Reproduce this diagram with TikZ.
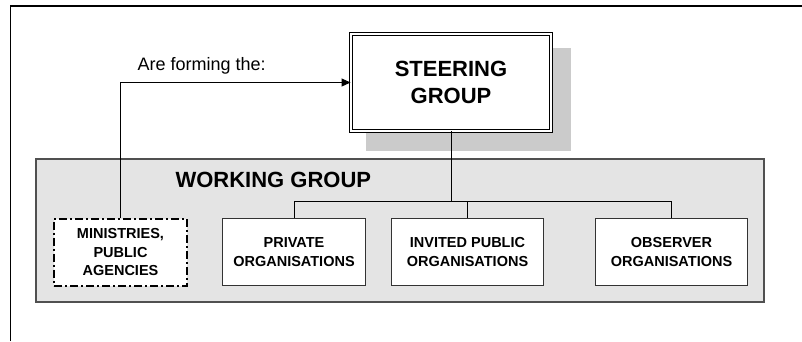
\documentclass[tikz,border=0pt]{standalone}
\usepackage{fontspec}
\setmainfont{Liberation Sans}
\usetikzlibrary{arrows.meta}
\definecolor{shadowgray}{HTML}{CBCBCB}
\definecolor{wgfill}{HTML}{E4E4E4}
\definecolor{wgline}{HTML}{505050}
\definecolor{boxline}{HTML}{333333}
\begin{document}
\begin{tikzpicture}[x=1pt,y=-1pt,
  wgpanel/.style={draw=wgline,fill=wgfill,line width=1.3pt,inner sep=0pt,outer sep=0pt},
  shadowbox/.style={fill=shadowgray,inner sep=0pt,outer sep=0pt},
  steerbox/.style={draw=black,fill=white,double=white,double distance=2pt,line width=0.9pt,
    inner sep=0pt,align=center,font=\fontsize{22}{27}\selectfont\bfseries},
  member/.style={draw=boxline,fill=white,line width=1.3pt,inner sep=0pt,align=center,
    minimum height=67pt,font=\fontsize{14.5}{18.5}\selectfont\bfseries},
  govbox/.style={member,draw=black,line width=2pt,dash pattern=on 8pt off 3pt on 2pt off 3pt},
  link/.style={draw=black,line width=0.9pt},
  arrowtip/.style={-{Triangle[length=9pt,width=8pt]}}
]
\useasboundingbox (0,0) rectangle (802,341);

% page frame
\coordinate (frameBL) at (10.5,341);
\coordinate (frameTL) at (10.5,6);
\coordinate (frameTR) at (802,6);
\draw[line width=1.2pt] (frameBL) -- (frameTL) -- (frameTR);

% working group panel
\node[wgpanel,minimum width=728pt,minimum height=143pt] (wg) at (400,230.5) {};
\node[anchor=base west,font=\fontsize{22}{26}\selectfont\bfseries] (wglabel) at (172,187) {WORKING GROUP};

% steering group with drop shadow
\node[shadowbox,minimum width=205pt,minimum height=103pt] (shadow) at (468.5,99.5) {};
\node[steerbox,minimum width=200pt,minimum height=97pt] (steer) at (451,82.5) {STEERING\\GROUP};

% member boxes
\node[govbox,minimum width=133pt] (mins) at (120.5,252) {MINISTRIES,\\PUBLIC\\AGENCIES};
\node[member,minimum width=143pt] (priv) at (294,252) {PRIVATE\\ORGANISATIONS};
\node[member,minimum width=152pt] (inv) at (467.5,252) {INVITED PUBLIC\\ORGANISATIONS};
\node[member,minimum width=152pt] (obs) at (671.5,252) {OBSERVER\\ORGANISATIONS};

% tree from the steering group down to the organisations
\coordinate (bus) at (451,201);
\draw[link] (steer.south) -- (bus);
\draw[link] (priv.north) -- (priv.north |- bus) -- (obs.north |- bus) -- (obs.north);
\draw[link] (inv.north) -- (inv.north |- bus);

% ministries form the steering group
\draw[link,arrowtip] (mins.north) |- (steer.west);
\node[anchor=base west,font=\fontsize{18}{21}\selectfont] (formlabel) at (134,70) {Are forming the:};
\end{tikzpicture}
\end{document}
